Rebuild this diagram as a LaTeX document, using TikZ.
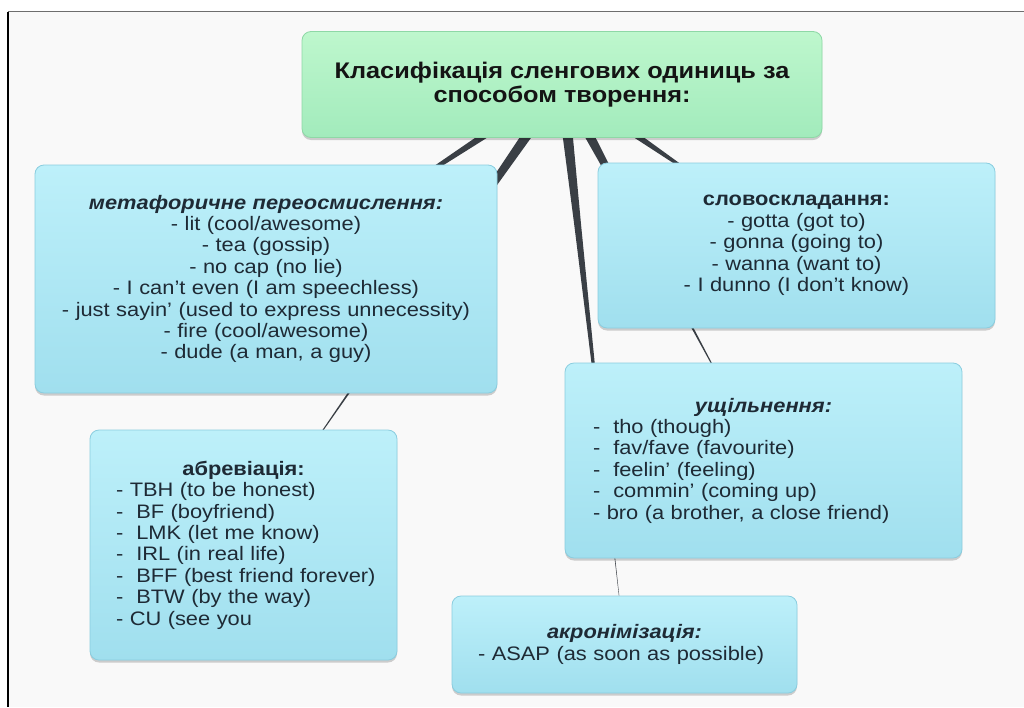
\documentclass[tikz,border=0pt]{standalone}
\usepackage{fontspec}
\setmainfont[FakeStretch=1.12]{Liberation Sans}
\usetikzlibrary{calc,shadows}
\pgfdeclarelayer{bg}
\pgfdeclarelayer{conn}
\pgfsetlayers{bg,conn,main}
\definecolor{pagebg}{HTML}{F9F9F9}
\definecolor{framegray}{HTML}{6E6E6E}
\definecolor{greentop}{HTML}{BEF7CD}
\definecolor{greenbot}{HTML}{A2EBBC}
\definecolor{greenbd}{HTML}{8ED8A6}
\definecolor{bluetop}{HTML}{BDF0FA}
\definecolor{bluebot}{HTML}{A0DFEE}
\definecolor{bluebd}{HTML}{8ACDDF}
\definecolor{txtcol}{HTML}{1E2A35}
\definecolor{conncol}{HTML}{3A3F45}
\newcommand\taperline[2]{%
  \coordinate (tA) at ($(#1.center)!0.25!(#2.center)$);
  \coordinate (tB) at ($(#1.center)!0.5!(#2.center)$);
  \coordinate (tC) at ($(#1.center)!0.75!(#2.center)$);
  \fill[conncol] ($(#1.center)!6pt!90:(#2.center)$) -- ($(tA)!3.4pt!90:(#2.center)$)
    -- ($(tB)!1.6pt!90:(#2.center)$) -- ($(tC)!0.5pt!90:(#2.center)$) -- (#2.center)
    -- ($(tC)!0.5pt!-90:(#2.center)$) -- ($(tB)!1.6pt!-90:(#2.center)$)
    -- ($(tA)!3.4pt!-90:(#2.center)$) -- ($(#1.center)!6pt!-90:(#2.center)$) -- cycle;}
\begin{document}
\begin{tikzpicture}[x=1pt,y=-1pt,
  basebox/.style={rounded corners=9pt, line width=0.8pt, inner xsep=0pt, inner ysep=0pt,
    drop shadow={shadow xshift=0pt, shadow yshift=-2.5pt, opacity=0.18, fill=black}},
  bluebox/.style={basebox, draw=bluebd, top color=bluetop, bottom color=bluebot,
    text=txtcol, font=\fontsize{19.5}{21.4}\selectfont},
  greenbox/.style={basebox, draw=greenbd, top color=greentop, bottom color=greenbot,
    text=black!92, font=\bfseries\fontsize{22.6}{24.5}\selectfont}]
\useasboundingbox (0,0) rectangle (1024,707);
\begin{pgfonlayer}{bg}
  \fill[white] (0,0) rectangle (1024,707);
  \fill[pagebg] (8,11.5) rectangle (1024,707);
  \draw[black, line width=1.2pt] (8,11.5) -- (8,707);
  \draw[framegray, line width=1.6pt] (8,11.5) -- (1024,11.5);
\end{pgfonlayer}

\node[greenbox, minimum width=520pt, minimum height=106pt, align=center] (top) at (562,84.5)
  {Класифікація сленгових одиниць за\\способом творення:};

\node[bluebox, minimum width=462pt, minimum height=228pt, text width=440pt, align=center] (met) at (266,279)
  {\textbf{\textit{метафоричне переосмислення:}}\\
   - lit (cool/awesome)\\
   - tea (gossip)\\
   - no cap (no lie)\\
   - I can't even (I am speechless)\\
   - just sayin' (used to express unnecessity)\\
   - fire (cool/awesome)\\
   - dude (a man, a guy)};

\node[bluebox, minimum width=397pt, minimum height=165pt, text width=370pt, align=center] (slov) at (796.5,245.5)
  {\textbf{словоскладання:}\\
   - gotta (got to)\\
   - gonna (going to)\\
   - wanna (want to)\\
   - I dunno (I don't know)};

\node[bluebox, minimum width=307pt, minimum height=230pt, text width=255pt, align=left] (abr) at (243.5,545)
  {{\centering\textbf{абревіація:}\par}
   \mbox{- TBH (to be honest)}\\
   \mbox{-\ \ BF (boyfriend)}\\
   \mbox{-\ \ LMK (let me know)}\\
   \mbox{-\ \ IRL (in real life)}\\
   \mbox{-\ \ BFF (best friend forever)}\\
   \mbox{-\ \ BTW (by the way)}\\
   \mbox{- CU (see you}};

\node[bluebox, minimum width=397pt, minimum height=195pt, text width=341pt, align=left] (ushch) at (763.5,460.5)
  {{\centering\textbf{\textit{ущільнення:}}\par}
   -\ \ tho (though)\\
   -\ \ fav/fave (favourite)\\
   -\ \ feelin' (feeling)\\
   -\ \ commin' (coming up)\\
   - bro (a brother, a close friend)};

\node[bluebox, minimum width=345pt, minimum height=97pt, text width=293pt, align=left] (akr) at (624.5,644.5)
  {{\centering\textbf{\textit{акронімізація:}}\par}
   - ASAP (as soon as possible)};

\begin{pgfonlayer}{conn}
  \taperline{top}{met}
  \taperline{top}{abr}
  \taperline{top}{akr}
  \taperline{top}{ushch}
  \taperline{top}{slov}
\end{pgfonlayer}
\end{tikzpicture}
\end{document}
